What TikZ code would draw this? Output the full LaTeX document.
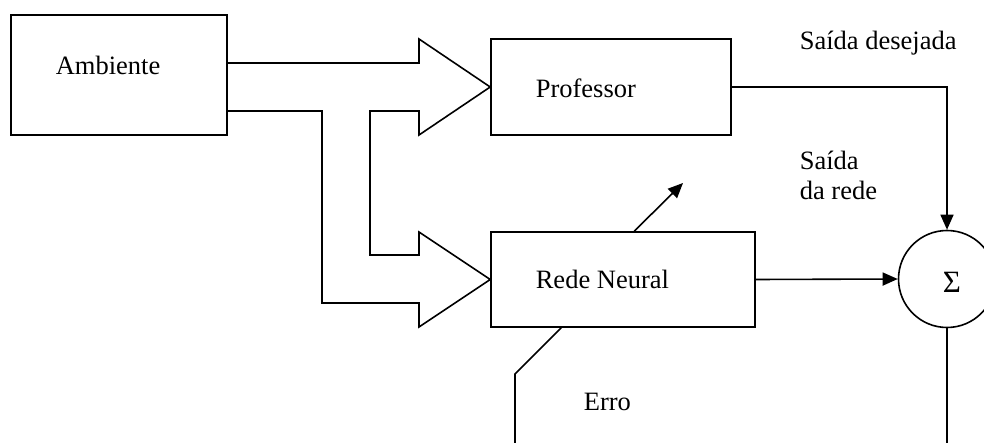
\documentclass[tikz,border=0pt]{standalone}
\usepackage{fontspec}
\setmainfont{Liberation Serif}
\usetikzlibrary{calc,arrows.meta}

\begin{document}
\begin{tikzpicture}[x=1pt,y=-1pt,line width=1.6pt,
    every node/.style={font=\fontsize{26.5}{30}\selectfont},
    bloco/.style={draw,rectangle,inner sep=0pt},
    rotulo/.style={anchor=base west,inner sep=0pt},
    seta/.style={-{Triangle[length=15pt,width=13pt]}}]
    \useasboundingbox (0,0) rectangle (984,443);
    \node[bloco,minimum width=216,minimum height=120] (amb) at (119,75) {};
    \node[bloco,minimum width=240,minimum height=96] (prof) at (611,87) {};
    \node[bloco,minimum width=264,minimum height=95] (rede) at (623,279.5) {};
    \node[draw,circle,minimum size=97,inner sep=0pt] (soma) at (947,279) {};
    \coordinate (ambA) at (227,63);
    \coordinate (ambB) at (227,111);
    \coordinate (saiA) at ($(rede.north west)+(144,0)$);
    \coordinate (saiB) at (683,183);
    \coordinate (erroA) at ($(rede.south west)+(71,0)$);
    \coordinate (erroB) at (515,374);
    \coordinate (erroC) at (515,443);
    \coordinate (fim) at (947,443);
    % setas largas
    \draw (ambA) -- (419,63) -- (419,39) -- (prof.west) -- (419,135) --
    (419,111) -- (370,111) -- (370,255) -- (419,255) -- (419,232) --
    (rede.west) -- (419,327) -- (419,303) -- (322,303) -- (322,111) -- (ambB);
    \draw[seta] (prof.east) -| (soma.north);
    \draw[seta] (rede.east) -- (soma.west);
    \draw (soma.south) -- (fim);
    \draw[seta] (saiA) -- (saiB);
    \draw (erroA) -- (erroB) -- (erroC);
    \node[rotulo] (tAmb) at (55,75) {Ambiente};
    \node[rotulo] (tProf) at (535,98) {Professor};
    \node[rotulo] (tRede) at (535,289) {Rede Neural};
    \node[rotulo] (tErro) at (583,410) {Erro};
    \node[rotulo] (tDes) at (799,50) {Saída desejada};
    \node[rotulo] (tSai) at (799,170) {Saída};
    \node[rotulo] (tRede2) at (799,200) {da rede};
    \node[anchor=base,inner sep=0pt,font=\fontsize{31}{36}\selectfont] (tSoma) at (952,293) {Σ};
  \end{tikzpicture}
\end{document}
